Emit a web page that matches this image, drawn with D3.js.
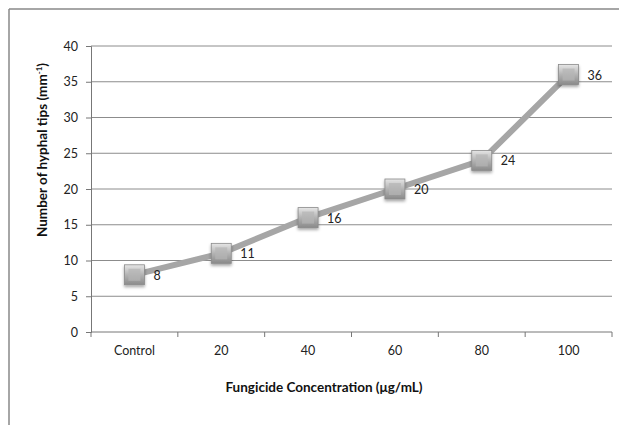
<!DOCTYPE html>
<html lang="en">
<head>
<meta charset="UTF-8">
<title>Hyphal tips</title>
<script src="https://d3js.org/d3.v7.min.js"></script>
<style>
    body { margin: 0; background: #fff; }
    svg { display: block; }
    .tick text { font-family: 'Lato', 'Open Sans', sans-serif; font-size: 12.5px; fill: #222; }
    .title { font-family: 'Lato', 'Open Sans', sans-serif; font-size: 13.5px; font-weight: bold; fill: #111; }
    .lbl { font-family: 'Lato', 'Open Sans', sans-serif; font-size: 12.5px; fill: #222; }
</style>
</head>
<body>
<svg width="619" height="425"></svg>
<script>
    const categories = ["Control", "20", "40", "60", "80", "100"];
    const tipCounts = [8, 11, 16, 20, 24, 36];
    const yTicks = [0, 5, 10, 15, 20, 25, 30, 35, 40];

    const svg = d3.select("svg");
    const plotL = 91, plotR = 612, plotT = 46, plotB = 332;

    // chart frame (only left and top edges show)
    svg.append("line").attr("x1", 9).attr("x2", 9).attr("y1", 9).attr("y2", 425)
        .attr("stroke", "#888").attr("stroke-width", 1.5);
    svg.append("line").attr("x1", 9).attr("x2", 619).attr("y1", 9).attr("y2", 9)
        .attr("stroke", "#888").attr("stroke-width", 1.5);

    const x = d3.scaleBand().domain(categories).range([plotL, plotR]);
    const y = d3.scaleLinear().domain([0, 40]).range([plotB, plotT]);

    // gridlines
    svg.append("g").selectAll("line")
        .data(yTicks.filter(d => d > 0))
        .join("line")
        .attr("x1", plotL).attr("x2", plotR)
        .attr("y1", d => y(d)).attr("y2", d => y(d))
        .attr("stroke", "#8c8c8c").attr("stroke-width", 1);

    const yAxis = svg.append("g")
        .attr("transform", `translate(${plotL},0)`)
        .call(d3.axisLeft(y).tickValues(yTicks).tickSize(5).tickPadding(8));
    yAxis.select(".domain").attr("stroke", "#777");
    yAxis.selectAll(".tick line").attr("stroke", "#777");

    const xAxis = svg.append("g")
        .attr("transform", `translate(0,${plotB})`)
        .call(d3.axisBottom(x).tickSize(0).tickPadding(14));
    xAxis.select(".domain").attr("stroke", "#777").attr("d", `M${plotL},0H${plotR}`);
    // category boundary ticks
    svg.append("g").selectAll("line")
        .data(d3.range(categories.length + 1))
        .join("line")
        .attr("x1", i => plotL + i * x.step()).attr("x2", i => plotL + i * x.step())
        .attr("y1", plotB).attr("y2", plotB + 5)
        .attr("stroke", "#777");

    const cx = (d, i) => x(categories[i]) + x.bandwidth() / 2;

    // line
    const line = d3.line().x((d, i) => cx(d, i)).y(d => y(d));
    svg.append("path").datum(tipCounts)
        .attr("d", line)
        .attr("fill", "none")
        .attr("stroke", "#a6a6a6")
        .attr("stroke-width", 6);

    // marker gradients
    const defs = svg.append("defs");
    const grad = defs.append("linearGradient").attr("id", "mk").attr("x1", 0).attr("y1", 0).attr("x2", 0).attr("y2", 1);
    grad.append("stop").attr("offset", "0%").attr("stop-color", "#e6e6e6");
    grad.append("stop").attr("offset", "50%").attr("stop-color", "#b3b3b3");
    grad.append("stop").attr("offset", "100%").attr("stop-color", "#8a8a8a");
    const f = defs.append("filter").attr("id", "sh").attr("x", "-30%").attr("y", "-30%").attr("width", "160%").attr("height", "170%");
    f.append("feDropShadow").attr("dx", 0).attr("dy", 2).attr("stdDeviation", 1.5).attr("flood-color", "#000").attr("flood-opacity", 0.35);

    const mk = svg.append("g").selectAll("g")
        .data(tipCounts)
        .join("g")
        .attr("transform", (d, i) => `translate(${cx(d, i)},${y(d)})`);
    mk.append("rect")
        .attr("x", -10).attr("y", -10).attr("width", 20).attr("height", 20)
        .attr("fill", "url(#mk)").attr("stroke", "#8a8a8a").attr("stroke-width", 0.8)
        .attr("filter", "url(#sh)");
    mk.append("rect")
        .attr("x", -6).attr("y", -6).attr("width", 12).attr("height", 12)
        .attr("fill", "#b5b5b5").attr("opacity", 0.7);

    // value labels
    svg.append("g").selectAll("text")
        .data(tipCounts)
        .join("text")
        .attr("class", "lbl")
        .attr("x", (d, i) => cx(d, i) + 19)
        .attr("y", d => y(d) + 5)
        .text(d => d);

    // axis titles
    const yTitle = svg.append("text").attr("class", "title")
        .attr("transform", "translate(47,150) rotate(-90)")
        .attr("text-anchor", "middle");
    yTitle.append("tspan").text("Number of hyphal tips (mm");
    yTitle.append("tspan").attr("font-size", "8px").attr("dy", -5).text("-1");
    yTitle.append("tspan").attr("dy", 5).text(")");

    svg.append("text").attr("class", "title")
        .attr("x", 324).attr("y", 392)
        .attr("text-anchor", "middle")
        .text("Fungicide Concentration (μg/mL)");
</script>
</body>
</html>
